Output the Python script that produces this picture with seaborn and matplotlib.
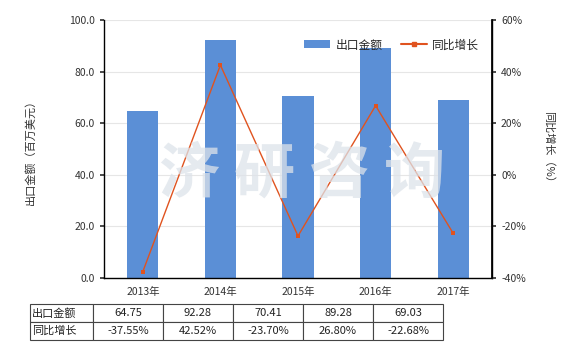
import matplotlib
matplotlib.use("Agg")
import matplotlib.pyplot as plt
import seaborn as sns
import pandas as pd
from matplotlib.patches import Patch
from matplotlib.lines import Line2D
from matplotlib.ticker import FuncFormatter

years = ["2013年", "2014年", "2015年", "2016年", "2017年"]
export_value = [64.75, 92.28, 70.41, 89.28, 69.03]
yoy_growth = [-37.55, 42.52, -23.70, 26.80, -22.68]
export_labels = ["64.75", "92.28", "70.41", "89.28", "69.03"]
growth_labels = ["-37.55%", "42.52%", "-23.70%", "26.80%", "-22.68%"]
row_names = ["出口金额", "同比增长"]

sns.set_theme(style="white")
plt.rcParams['font.family'] = ['Noto Sans CJK SC', 'DejaVu Sans']
plt.rcParams['axes.unicode_minus'] = False

bar_color = "#5b8fd6"
line_color = "#e0531f"

df = pd.DataFrame({"year": years, "value": export_value, "growth": yoy_growth})

fig = plt.figure(figsize=(5.8, 3.5), dpi=100)
ax = fig.add_axes([104/580, 1-278/350, 388/580, 258/350])

# watermark
fig.text(0.52, 0.5, "济 研 咨 询", fontsize=44, color="#dde3ea", alpha=0.75,
         ha="center", va="center", zorder=0, fontweight="bold")

sns.barplot(data=df, x="year", y="value", color=bar_color, width=0.4,
            saturation=1, ax=ax, zorder=2, linewidth=0, edgecolor="none")
ax.set_xlim(-0.5, 4.5)
ax.set_ylim(0, 100)
ax.set_yticks([0, 20, 40, 60, 80, 100])
ax.yaxis.set_major_formatter(FuncFormatter(lambda v, p: f"{v:.1f}"))
ax.grid(axis="y", color="#e6e6e6", linewidth=0.8, zorder=0)
ax.set_axisbelow(True)
ax.set_xlabel("")
ax.set_ylabel("出口金额（百万美元）", fontsize=8, color="#333333", labelpad=24)
ax.tick_params(axis="both", labelsize=7.5, colors="#333333", length=3, direction="out")
ax.tick_params(axis="x", length=3)
for s in ["left", "bottom", "right"]:
    ax.spines[s].set_color("black")
    ax.spines[s].set_linewidth(1)
ax.spines["top"].set_visible(False)
ax.patch.set_alpha(0)

ax2 = ax.twinx()
sns.lineplot(data=df, x="year", y="growth", color=line_color, marker="s",
             markersize=3.5, markeredgewidth=0, linewidth=1, ax=ax2, zorder=3)
ax2.set_ylim(-40, 60)
ax2.set_yticks([-40, -20, 0, 20, 40, 60])
ax2.yaxis.set_major_formatter(FuncFormatter(lambda v, p: f"{v:.0f}%"))
ax2.set_ylabel("同比增长（%）", fontsize=8, color="#333333", rotation=-90, labelpad=20)
ax2.tick_params(axis="y", labelsize=7.5, colors="#333333", length=3)
ax2.spines["top"].set_visible(False)
ax2.spines["right"].set_color("black")
ax2.spines["left"].set_visible(False)
ax2.spines["bottom"].set_visible(False)
ax2.grid(False)

handles = [Patch(facecolor=bar_color, edgecolor="none"),
           Line2D([0], [0], color=line_color, marker="s", markersize=3.5, linewidth=1.5)]
ax2.legend(handles, row_names, loc="upper right", bbox_to_anchor=(0.995, 0.97),
           ncol=2, frameon=False, fontsize=8.5, handlelength=2.2, columnspacing=1.5,
           handletextpad=0.5)

# data table
tax = fig.add_axes([30/580, 1-340/350, 413/580, 36/350])
tax.axis("off")
cells = [[row_names[0]] + export_labels, [row_names[1]] + growth_labels]
tbl = tax.table(cellText=cells, bbox=[0, 0, 1, 1], cellLoc="center",
                colWidths=[63] + [70]*5)
tbl.auto_set_font_size(False)
tbl.set_fontsize(8)
for (r, c), cell in tbl.get_celld().items():
    cell.set_edgecolor("#444444")
    cell.set_linewidth(0.8)
    cell.get_text().set_color("#222222")
    if c == 0:
        cell.get_text().set_ha("left")
        cell.PAD = 0.03

fig.savefig("out.png", dpi=100)
